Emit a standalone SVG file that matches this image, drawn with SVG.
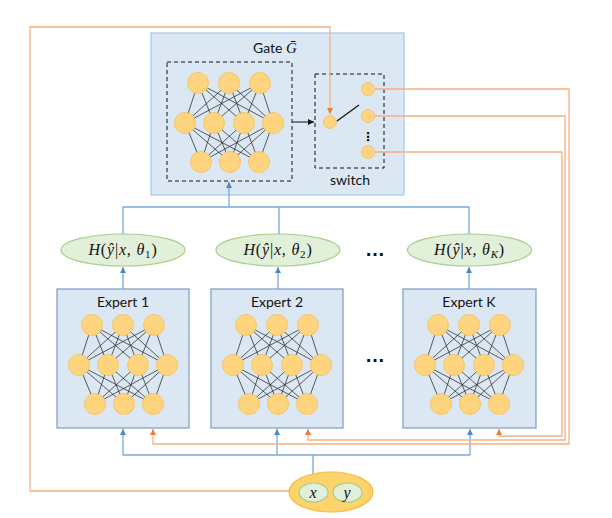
<svg xmlns="http://www.w3.org/2000/svg" xmlns:xlink="http://www.w3.org/1999/xlink" width="612" height="518" viewBox="0 0 612 518">
<style>
.lbl{font-family:Lato,"Open Sans",sans-serif;font-size:14px;fill:#111}
.math{font-family:"Liberation Serif","DejaVu Serif",serif;font-size:16px;fill:#111;letter-spacing:0.8px}
.it{font-style:italic}
.box{fill:#dce7f4;stroke:#7b9cc8;stroke-width:1.2}
.gate{fill:#dce7f4;stroke:#a3c8e8;stroke-width:1.2}
.dash{fill:none;stroke:#111;stroke-width:1;stroke-dasharray:4 3}
.n{fill:#ffd47e;stroke:#f3bf55;stroke-width:0.8}
.w{stroke:#2a2a2a;stroke-width:0.75}
.ell{fill:#e2efd9;stroke:#a6cf8c;stroke-width:1.2}
.blue{fill:none;stroke:#79a8dc;stroke-width:1.3}
.org{fill:none;stroke:#f4b183;stroke-width:1.3}
.dots{font-family:"Liberation Sans",sans-serif;font-size:20px;font-weight:bold;fill:#111}
</style>
<defs>
<marker id="ab" markerUnits="userSpaceOnUse" markerWidth="7" markerHeight="7" refX="6" refY="3" orient="auto"><path d="M0,0 L6,3 L0,6 z" fill="#4f86c6"/></marker>
<marker id="ao" markerUnits="userSpaceOnUse" markerWidth="7" markerHeight="7" refX="6" refY="3" orient="auto"><path d="M0,0 L6,3 L0,6 z" fill="#ed7d31"/></marker>
<marker id="ak" markerUnits="userSpaceOnUse" markerWidth="7" markerHeight="7" refX="6" refY="3" orient="auto"><path d="M0,0 L6,3 L0,6 z" fill="#111"/></marker>
<g id="nn">
<g class="w">
<path d="M-31,-40 L-44,0 M-31,-40 L-15,0 M-31,-40 L15,0 M-31,-40 L44,0 M0,-40 L-44,0 M0,-40 L-15,0 M0,-40 L15,0 M0,-40 L44,0 M31,-40 L-44,0 M31,-40 L-15,0 M31,-40 L15,0 M31,-40 L44,0"/>
<path d="M-28,39 L-44,0 M-28,39 L-15,0 M-28,39 L15,0 M-28,39 L44,0 M1,39 L-44,0 M1,39 L-15,0 M1,39 L15,0 M1,39 L44,0 M30,39 L-44,0 M30,39 L-15,0 M30,39 L15,0 M30,39 L44,0"/>
</g>
<circle class="n" cx="-31" cy="-40" r="10.5"/><circle class="n" cx="0" cy="-40" r="10.5"/><circle class="n" cx="31" cy="-40" r="10.5"/>
<circle class="n" cx="-44" cy="0" r="10.5"/><circle class="n" cx="-15" cy="0" r="10.5"/><circle class="n" cx="15" cy="0" r="10.5"/><circle class="n" cx="44" cy="0" r="10.5"/>
<circle class="n" cx="-28" cy="39" r="10.5"/><circle class="n" cx="1" cy="39" r="10.5"/><circle class="n" cx="30" cy="39" r="10.5"/>
</g>
</defs>
<rect width="612" height="518" fill="#fff"/>

<g id="gate">
<rect class="gate" x="151" y="33" width="253" height="162"/>
<text class="lbl" x="275" y="53" text-anchor="middle">Gate <tspan class="it" font-family="Liberation Serif,serif" font-size="15">Ḡ</tspan></text>
<rect class="dash" x="167" y="62" width="125" height="119"/>
<use xlink:href="#nn" x="229" y="123"/>
</g>

<g id="switch">
<rect class="dash" x="315" y="74" width="69" height="94"/>
<text class="lbl" x="350" y="185" text-anchor="middle">switch</text>
<circle class="n" cx="330" cy="122" r="6.5"/>
<line x1="337" y1="121" x2="359" y2="105" stroke="#111" stroke-width="1.3"/>
<circle class="n" cx="368" cy="89" r="6.5"/>
<circle class="n" cx="368" cy="116" r="6.5"/>
<circle class="n" cx="368" cy="152" r="6.5"/>
<text x="368" y="141" text-anchor="middle" font-family="DejaVu Sans,sans-serif" font-size="12" font-weight="bold" fill="#111">⋮</text>
</g>

<g id="h1">
<ellipse class="ell" cx="123" cy="250" rx="62" ry="16"/>
<text class="math" x="123" y="255" text-anchor="middle"><tspan class="it">H</tspan>(<tspan class="it">ŷ</tspan>|<tspan class="it">x</tspan>, <tspan class="it">θ</tspan><tspan font-size="11" dy="3">1</tspan><tspan dy="-3">)</tspan></text>
</g>
<g id="h2">
<ellipse class="ell" cx="278" cy="250" rx="62" ry="16"/>
<text class="math" x="278" y="255" text-anchor="middle"><tspan class="it">H</tspan>(<tspan class="it">ŷ</tspan>|<tspan class="it">x</tspan>, <tspan class="it">θ</tspan><tspan font-size="11" dy="3">2</tspan><tspan dy="-3">)</tspan></text>
</g>
<g id="dots1"><text class="dots" x="375" y="256" text-anchor="middle">…</text></g>
<g id="hK">
<ellipse class="ell" cx="469.5" cy="250" rx="62" ry="16"/>
<text class="math" x="469.5" y="255" text-anchor="middle"><tspan class="it">H</tspan>(<tspan class="it">ŷ</tspan>|<tspan class="it">x</tspan>, <tspan class="it">θ</tspan><tspan font-size="11" dy="3" class="it">K</tspan><tspan dy="-3">)</tspan></text>
</g>

<g id="expert1">
<rect class="box" x="57" y="289" width="132" height="139"/>
<text class="lbl" x="123" y="307" text-anchor="middle">Expert 1</text>
<use xlink:href="#nn" x="123" y="365"/>
</g>
<g id="expert2">
<rect class="box" x="211" y="289" width="132" height="139"/>
<text class="lbl" x="277" y="307" text-anchor="middle">Expert 2</text>
<use xlink:href="#nn" x="277" y="365"/>
</g>
<g id="dots2"><text class="dots" x="375" y="362" text-anchor="middle">…</text></g>
<g id="expertK">
<rect class="box" x="403" y="289" width="133" height="139"/>
<text class="lbl" x="469" y="307" text-anchor="middle">Expert K</text>
<use xlink:href="#nn" x="469" y="365"/>
</g>

<g id="connectors">
<path class="blue" d="M229,207 V182" marker-end="url(#ab)"/>
<path class="blue" d="M123,234 V207 H469 V234 M279,207 V234"/>
<path class="blue" d="M123,289 V267" marker-end="url(#ab)"/>
<path class="blue" d="M278,289 V267" marker-end="url(#ab)"/>
<path class="blue" d="M469,289 V267" marker-end="url(#ab)"/>
<path class="blue" d="M313,483 V455 M123,455 H470"/>
<path class="blue" d="M123,455 V429" marker-end="url(#ab)"/>
<path class="blue" d="M277,455 V429" marker-end="url(#ab)"/>
<path class="blue" d="M470,455 V429" marker-end="url(#ab)"/>
<path class="org" d="M290,491 H30 V27 H330 V114" marker-end="url(#ao)"/>
<path class="org" d="M374.5,89 H569 V444 H153 V429" marker-end="url(#ao)"/>
<path class="org" d="M374.5,116 H565 V440 H308 V429" marker-end="url(#ao)"/>
<path class="org" d="M374.5,152 H562 V436 H499 V429" marker-end="url(#ao)"/>
<path d="M292,122 H314" stroke="#111" stroke-width="1" fill="none" marker-end="url(#ak)"/>
</g>

<g id="data">
<ellipse cx="331" cy="492" rx="42" ry="20" fill="#fdd36c" stroke="#f4bc46" stroke-width="1.2"/>
<ellipse class="ell" cx="313.5" cy="492.5" rx="14.5" ry="9.5"/>
<ellipse class="ell" cx="347.5" cy="492.5" rx="14.5" ry="9.5"/>
<text class="math it" x="313.5" y="498" text-anchor="middle">x</text>
<text class="math it" x="347.5" y="498" text-anchor="middle">y</text>
</g>
</svg>
